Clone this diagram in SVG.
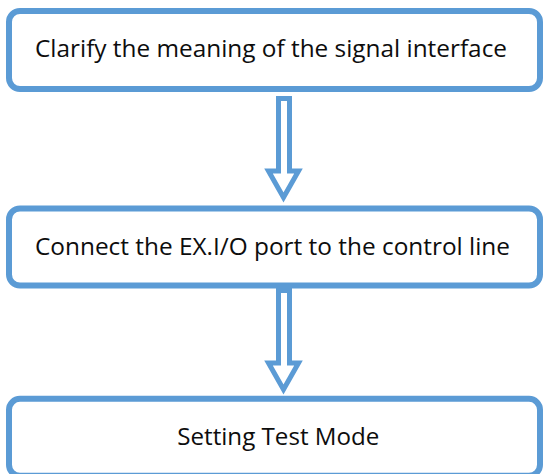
<svg xmlns="http://www.w3.org/2000/svg" width="544" height="474" viewBox="0 0 544 474">
<style>
.box{fill:#ffffff;stroke:#5B9BD5;stroke-width:6}
.lbl{font-family:"Open Sans","Noto Sans","Liberation Sans",sans-serif;font-size:24.5px;fill:#0d0d0d}
.arr{fill:#ffffff;stroke:#5B9BD5;stroke-width:5;stroke-linejoin:miter}
</style>
<rect width="544" height="474" fill="#ffffff"/>
<g id="node1">
<rect class="box" x="9" y="11" width="531" height="78" rx="11"/>
<text class="lbl" x="35" y="56.5" textLength="472" lengthAdjust="spacingAndGlyphs">Clarify the meaning of the signal interface</text>
</g>
<g id="node2">
<rect class="box" x="9" y="208.5" width="531" height="77" rx="11"/>
<text class="lbl" x="35" y="255" textLength="475" lengthAdjust="spacingAndGlyphs">Connect the EX.I/O port to the control line</text>
</g>
<g id="node3">
<rect class="box" x="9" y="398.8" width="531" height="77" rx="11"/>
<text class="lbl" x="177.3" y="444.5" textLength="202" lengthAdjust="spacingAndGlyphs">Setting Test Mode</text>
</g>
<g id="connectors">
<path class="arr" d="M278.5,98.5 H289.5 V171 H298.5 L283.5,197.5 L268.5,171 H278.5 Z"/>
<path class="arr" d="M278.5,290.5 H289.5 V363 H298.5 L283.5,389.5 L268.5,363 H278.5 Z"/>
</g>
</svg>
